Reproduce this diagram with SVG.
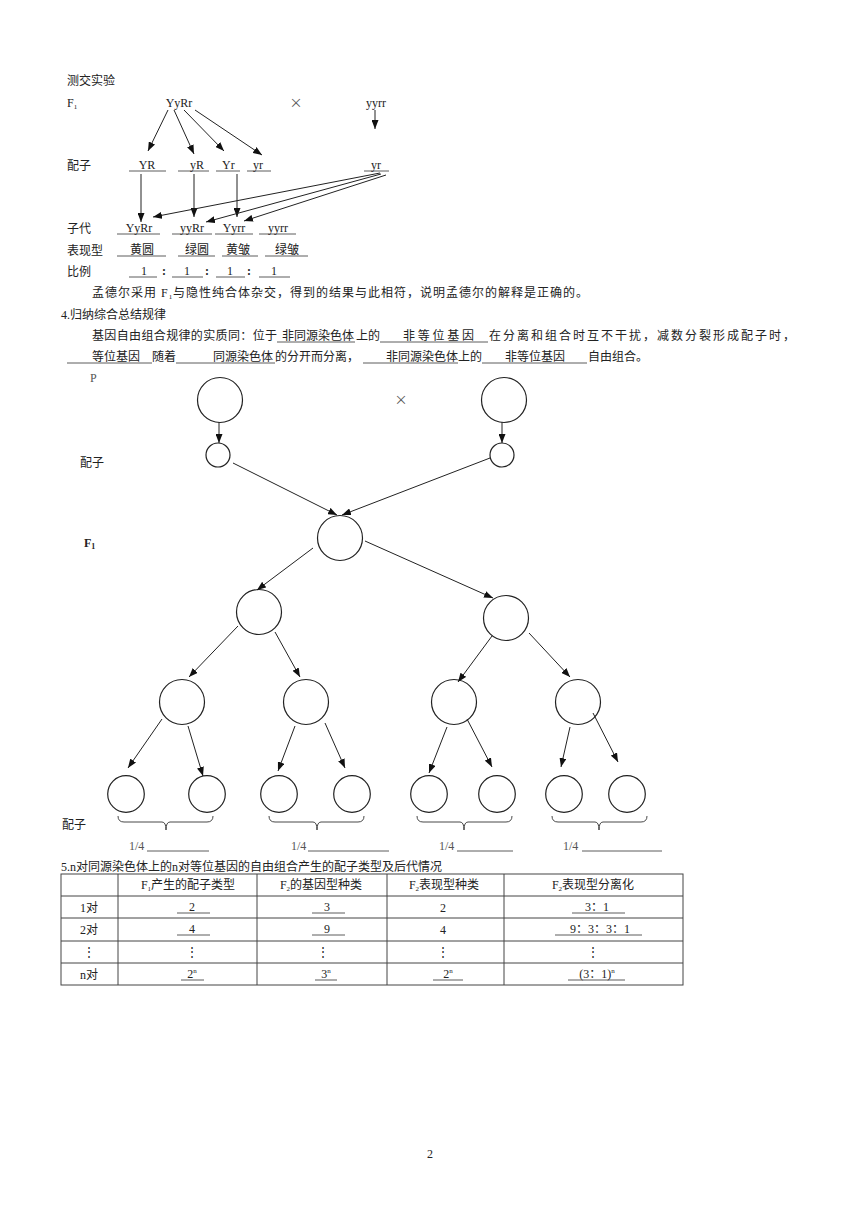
<svg xmlns="http://www.w3.org/2000/svg" width="860" height="1218" viewBox="0 0 860 1218">
<style>
.t{font-family:"Liberation Serif","Noto Sans CJK SC",serif;font-size:12px;fill:#222}
.g{fill:#555}
.m{text-anchor:middle}
.b{font-weight:bold}
.x{font-family:"Noto Sans CJK SC","DejaVu Sans",sans-serif;font-size:13px;fill:#555;text-anchor:middle}
.ul{stroke:#333;stroke-width:0.8}
.node{fill:#fff;stroke:#222;stroke-width:1.2}
.conn line{stroke:#222;stroke-width:1;marker-end:url(#ah)}
.tb{stroke:#444;stroke-width:1;fill:none}
.br{fill:none;stroke:#333;stroke-width:0.9}
</style>
<defs>
<marker id="ah" markerUnits="userSpaceOnUse" markerWidth="9" markerHeight="7" refX="9" refY="3.5" orient="auto">
<path d="M0,0 L9,3.5 L0,7 Z" fill="#111"/>
</marker>
</defs>
<rect width="860" height="1218" fill="#fff"/>

<!-- Test cross section -->
<g id="testcross">
<text class="t" x="67" y="85">测交实验</text>
<text class="t" x="67" y="107">F<tspan font-size="7" dy="2">1</tspan></text>
<text class="t m" x="179" y="107">YyRr</text>
<text class="x" x="296" y="107">×</text>
<text class="t m" x="376" y="107">yyrr</text>
<text class="t" x="67" y="170">配子</text>
<text class="t" x="67" y="233">子代</text>
<text class="t" x="67" y="255">表现型</text>
<text class="t" x="67" y="276">比例</text>
</g>
<g id="gametes">
<text class="t m" x="147" y="169">YR</text>
<text class="t" x="190" y="169">yR</text>
<text class="t" x="222" y="169">Yr</text>
<text class="t" x="253" y="169">yr</text>
<text class="t" x="371" y="169">yr</text>
<line class="ul" x1="129" y1="171" x2="166" y2="171"/>
<line class="ul" x1="178" y1="171" x2="209" y2="171"/>
<line class="ul" x1="216" y1="171" x2="240" y2="171"/>
<line class="ul" x1="247" y1="171" x2="271" y2="171"/>
<line class="ul" x1="364" y1="171" x2="389" y2="171"/>
</g>
<g id="offspring">
<text class="t m" x="139" y="232">YyRr</text>
<text class="t m" x="192" y="232">yyRr</text>
<text class="t m" x="234" y="232">Yyrr</text>
<text class="t m" x="278" y="232">yyrr</text>
<line class="ul" x1="117" y1="234" x2="160" y2="234"/>
<line class="ul" x1="172" y1="234" x2="212" y2="234"/>
<line class="ul" x1="215" y1="234" x2="253" y2="234"/>
<line class="ul" x1="259" y1="234" x2="296" y2="234"/>
<text class="t m" x="142" y="254">黄圆</text>
<text class="t m" x="197" y="254">绿圆</text>
<text class="t m" x="238" y="254">黄皱</text>
<text class="t m" x="287" y="254">绿皱</text>
<line class="ul" x1="117" y1="256" x2="166" y2="256"/>
<line class="ul" x1="178" y1="256" x2="215" y2="256"/>
<line class="ul" x1="222" y1="256" x2="258" y2="256"/>
<line class="ul" x1="265" y1="256" x2="308" y2="256"/>
<text class="t m" x="144" y="275">1</text>
<text class="t m" x="187" y="275">1</text>
<text class="t m" x="230" y="275">1</text>
<text class="t m" x="274" y="275">1</text>
<text class="t b m" x="164" y="275">:</text>
<text class="t b m" x="207" y="275">:</text>
<text class="t b m" x="249" y="275">:</text>
<line class="ul" x1="129" y1="277" x2="157" y2="277"/>
<line class="ul" x1="172" y1="277" x2="203" y2="277"/>
<line class="ul" x1="216" y1="277" x2="245" y2="277"/>
<line class="ul" x1="259" y1="277" x2="290" y2="277"/>
</g>
<g id="testcross-connectors" class="conn">
<line x1="168" y1="110" x2="148" y2="151"/>
<line x1="174" y1="110" x2="194" y2="154"/>
<line x1="184" y1="110" x2="224" y2="151"/>
<line x1="195" y1="110" x2="262" y2="155"/>
<line x1="375" y1="110" x2="375" y2="129"/>
<line x1="141" y1="174" x2="141" y2="222"/>
<line x1="194" y1="174" x2="194" y2="217"/>
<line x1="237" y1="174" x2="237" y2="217"/>
<line x1="380" y1="173" x2="153" y2="217"/>
<line x1="381" y1="174" x2="206" y2="222"/>
<line x1="386" y1="175" x2="244" y2="221"/>
</g>

<!-- Paragraph -->
<g id="paragraph">
<text class="t" x="92" y="297" textLength="496" lengthAdjust="spacing">孟德尔采用 F<tspan font-size="7" dy="2">1</tspan><tspan dy="-2">与隐性纯合体杂交，得到的结果与此相符，说明孟德尔的解释是正确的。</tspan></text>
<text class="t" x="61" y="319">4.归纳综合总结规律</text>
<text class="t" x="92" y="340" textLength="185" lengthAdjust="spacing">基因自由组合规律的实质同：位于</text>
<text class="t" x="282" y="340">非同源染色体</text>
<text class="t" x="356" y="340">上的</text>
<text class="t" x="403" y="340" textLength="71" lengthAdjust="spacing">非等位基因</text>
<text class="t" x="489" y="340" textLength="306" lengthAdjust="spacing">在分离和组合时互不干扰，减数分裂形成配子时，</text>
<line class="ul" x1="277" y1="342" x2="355" y2="342"/>
<line class="ul" x1="380" y1="342" x2="488" y2="342"/>
<text class="t" x="92" y="361">等位基因</text>
<text class="t" x="152" y="361">随着</text>
<text class="t" x="213" y="361">同源染色体</text>
<text class="t" x="275" y="361">的分开而分离，</text>
<text class="t" x="386" y="361">非同源染色体</text>
<text class="t" x="458" y="361">上的</text>
<text class="t" x="505" y="361">非等位基因</text>
<text class="t" x="588" y="361">自由组合。</text>
<line class="ul" x1="67" y1="363" x2="152" y2="363"/>
<line class="ul" x1="176" y1="363" x2="275" y2="363"/>
<line class="ul" x1="363" y1="363" x2="458" y2="363"/>
<line class="ul" x1="482" y1="363" x2="587" y2="363"/>
</g>

<!-- Tree labels -->
<g id="tree-labels">
<text class="t g" x="90" y="382">P</text>
<text class="x" x="401" y="404">×</text>
<text class="t" x="80" y="467">配子</text>
<text class="t b" x="84" y="547">F<tspan font-size="8" dy="2">1</tspan></text>
<text class="t" x="62" y="829">配子</text>
</g>

<!-- Tree nodes -->
<g id="p-left"><circle class="node" cx="220" cy="400" r="22.5"/></g>
<g id="p-right"><circle class="node" cx="504" cy="400" r="22.5"/></g>
<g id="gamete-left"><circle class="node" cx="218" cy="455" r="12"/></g>
<g id="gamete-right"><circle class="node" cx="502" cy="455" r="12"/></g>
<g id="f1"><circle class="node" cx="340" cy="538" r="22.5"/></g>
<g id="l2-left"><circle class="node" cx="259" cy="612" r="22.5"/></g>
<g id="l2-right"><circle class="node" cx="506" cy="618" r="22.5"/></g>
<g id="l3-1"><circle class="node" cx="182" cy="702" r="22.5"/></g>
<g id="l3-2"><circle class="node" cx="306" cy="702" r="22.5"/></g>
<g id="l3-3"><circle class="node" cx="454" cy="702" r="22.5"/></g>
<g id="l3-4"><circle class="node" cx="578" cy="702" r="22.5"/></g>
<g id="l4-1"><circle class="node" cx="126" cy="794" r="18.3"/></g>
<g id="l4-2"><circle class="node" cx="207" cy="794" r="18.3"/></g>
<g id="l4-3"><circle class="node" cx="279" cy="794" r="18.3"/></g>
<g id="l4-4"><circle class="node" cx="352" cy="794" r="18.3"/></g>
<g id="l4-5"><circle class="node" cx="429" cy="794" r="18.3"/></g>
<g id="l4-6"><circle class="node" cx="497" cy="794" r="18.3"/></g>
<g id="l4-7"><circle class="node" cx="564" cy="794" r="18.3"/></g>
<g id="l4-8"><circle class="node" cx="627" cy="794" r="18.3"/></g>

<!-- Tree connectors -->
<g id="tree-connectors" class="conn">
<line x1="219" y1="422" x2="219" y2="443"/>
<line x1="502" y1="422" x2="502" y2="443"/>
<line x1="233" y1="463" x2="337" y2="515"/>
<line x1="490" y1="458" x2="342" y2="515"/>
<line x1="313" y1="548" x2="257" y2="590"/>
<line x1="365" y1="541" x2="493" y2="598"/>
<line x1="238" y1="626" x2="189" y2="677"/>
<line x1="275" y1="632" x2="300" y2="677"/>
<line x1="492" y1="636" x2="458" y2="682"/>
<line x1="529" y1="633" x2="570" y2="677"/>
<line x1="162" y1="719" x2="128" y2="768"/>
<line x1="188" y1="726" x2="203" y2="776"/>
<line x1="295" y1="726" x2="278" y2="771"/>
<line x1="325" y1="723" x2="345" y2="768"/>
<line x1="447" y1="727" x2="429" y2="773"/>
<line x1="467" y1="719" x2="492" y2="767"/>
<line x1="570" y1="727" x2="561" y2="767"/>
<line x1="593" y1="713" x2="618" y2="762"/>
</g>

<!-- Braces and fractions -->
<g id="braces">
<path class="br" d="M118,816 q0,6 6,6 H162 q4,0 4,8 q0,-8 4,-8 H207 q6,0 6,-6"/>
<path class="br" d="M269,816 q0,6 6,6 H313 q4,0 4,8 q0,-8 4,-8 H358 q6,0 6,-6"/>
<path class="br" d="M417,816 q0,6 6,6 H460 q4,0 4,8 q0,-8 4,-8 H506 q6,0 6,-6"/>
<path class="br" d="M552,816 q0,6 6,6 H595 q4,0 4,8 q0,-8 4,-8 H641 q6,0 6,-6"/>
<text class="t g" x="129" y="850">1/4</text>
<text class="t g" x="291" y="850">1/4</text>
<text class="t g" x="439" y="850">1/4</text>
<text class="t g" x="563" y="850">1/4</text>
<line class="ul" x1="147" y1="851" x2="209" y2="851"/>
<line class="ul" x1="308" y1="851" x2="389" y2="851"/>
<line class="ul" x1="457" y1="851" x2="513" y2="851"/>
<line class="ul" x1="582" y1="851" x2="662" y2="851"/>
</g>

<!-- Table -->
<g id="table">
<text class="t" x="61" y="871">5.n对同源染色体上的n对等位基因的自由组合产生的配子类型及后代情况</text>
<rect class="tb" x="61" y="874" width="622" height="111"/>
<line class="tb" x1="61" y1="896" x2="683" y2="896"/>
<line class="tb" x1="61" y1="918" x2="683" y2="918"/>
<line class="tb" x1="61" y1="941" x2="683" y2="941"/>
<line class="tb" x1="61" y1="963" x2="683" y2="963"/>
<line class="tb" x1="118" y1="874" x2="118" y2="985"/>
<line class="tb" x1="257" y1="874" x2="257" y2="985"/>
<line class="tb" x1="387" y1="874" x2="387" y2="985"/>
<line class="tb" x1="504" y1="874" x2="504" y2="985"/>
<text class="t m" x="188" y="889">F<tspan font-size="7" dy="2">1</tspan><tspan dy="-2">产生的配子类型</tspan></text>
<text class="t m" x="321" y="889">F<tspan font-size="7" dy="2">2</tspan><tspan dy="-2">的基因型种类</tspan></text>
<text class="t m" x="444" y="889">F<tspan font-size="7" dy="2">2</tspan><tspan dy="-2">表现型种类</tspan></text>
<text class="t m" x="593" y="889">F<tspan font-size="7" dy="2">2</tspan><tspan dy="-2">表现型分离化</tspan></text>
<text class="t m" x="89" y="912">1对</text>
<text class="t m" x="89" y="934">2对</text>
<text class="t m" x="89" y="956">⋮</text>
<text class="t m" x="89" y="979">n对</text>
<text class="t m" x="192" y="911">2</text>
<text class="t m" x="327" y="911">3</text>
<text class="t m" x="443" y="912">2</text>
<text class="t m" x="597" y="911">3：1</text>
<line class="ul" x1="177" y1="913" x2="210" y2="913"/>
<line class="ul" x1="312" y1="913" x2="345" y2="913"/>
<line class="ul" x1="572" y1="913" x2="625" y2="913"/>
<text class="t m" x="192" y="933">4</text>
<text class="t m" x="327" y="933">9</text>
<text class="t m" x="443" y="934">4</text>
<text class="t m" x="600" y="933">9：3：3：1</text>
<line class="ul" x1="177" y1="935" x2="210" y2="935"/>
<line class="ul" x1="312" y1="935" x2="345" y2="935"/>
<line class="ul" x1="555" y1="935" x2="642" y2="935"/>
<text class="t m" x="192" y="956">⋮</text>
<text class="t m" x="323" y="956">⋮</text>
<text class="t m" x="443" y="956">⋮</text>
<text class="t m" x="593" y="956">⋮</text>
<text class="t m" x="192" y="978">2<tspan font-size="7" dy="-5">n</tspan></text>
<text class="t m" x="326" y="978">3<tspan font-size="7" dy="-5">n</tspan></text>
<text class="t m" x="448" y="978">2<tspan font-size="7" dy="-5">n</tspan></text>
<text class="t m" x="597" y="978">(3：1)<tspan font-size="7" dy="-5">n</tspan></text>
<line class="ul" x1="181" y1="980" x2="204" y2="980"/>
<line class="ul" x1="315" y1="980" x2="337" y2="980"/>
<line class="ul" x1="433" y1="980" x2="463" y2="980"/>
<line class="ul" x1="568" y1="980" x2="625" y2="980"/>
</g>

<text class="t m" x="430" y="1158" font-size="10">2</text>
</svg>
